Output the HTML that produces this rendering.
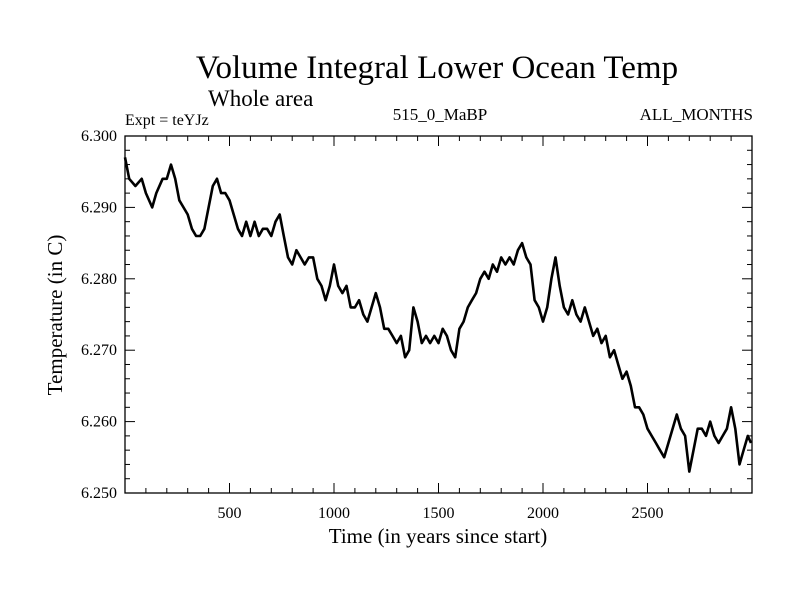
<!DOCTYPE html>
<html><head><meta charset="utf-8"><style>
body{margin:0;background:#fff}
svg{display:block;font-family:"Liberation Serif",serif}
</style></head><body>
<svg id="chart" width="800" height="600" viewBox="0 0 800 600">
<text x="437" y="78" font-size="33" text-anchor="middle">Volume Integral Lower Ocean Temp</text>
<text x="208" y="106" font-size="23">Whole area</text>
<text x="125" y="125" font-size="16">Expt = teYJz</text>
<text x="440" y="120" font-size="17" text-anchor="middle">515_0_MaBP</text>
<text x="753" y="120" font-size="17" text-anchor="end">ALL_MONTHS</text>
<text x="438" y="543" font-size="21" text-anchor="middle">Time (in years since start)</text>
<text transform="translate(62,315) rotate(-90)" font-size="21" text-anchor="middle">Temperature (in C)</text>
<g id="axes"></g>
<path id="series" fill="none" stroke="#000" stroke-width="2.6" stroke-linejoin="round"/>
<rect x="125" y="136" width="627" height="357" fill="none" stroke="#000" stroke-width="1.3"/>
</svg>
<script>
const years=[0,20,50,80,100,130,150,180,200,220,240,260,280,300,320,340,360,380,400,420,440,460,480,500,520,540,560,580,600,620,640,660,680,700,720,740,760,780,800,820,840,860,880,900,920,940,960,980,1000,1020,1040,1060,1080,1100,1120,1140,1160,1180,1200,1220,1240,1260,1280,1300,1320,1340,1360,1380,1400,1420,1440,1460,1480,1500,1520,1540,1560,1580,1600,1620,1640,1660,1680,1700,1720,1740,1760,1780,1800,1820,1840,1860,1880,1900,1920,1940,1960,1980,2000,2020,2040,2060,2080,2100,2120,2140,2160,2180,2200,2220,2240,2260,2280,2300,2320,2340,2360,2380,2400,2420,2440,2460,2480,2500,2520,2540,2560,2580,2600,2620,2640,2660,2680,2700,2720,2740,2760,2780,2800,2820,2840,2860,2880,2900,2920,2940,2960,2980,2995];
const temps=[6.297,6.294,6.293,6.294,6.292,6.290,6.292,6.294,6.294,6.296,6.294,6.291,6.290,6.289,6.287,6.286,6.286,6.287,6.290,6.293,6.294,6.292,6.292,6.291,6.289,6.287,6.286,6.288,6.286,6.288,6.286,6.287,6.287,6.286,6.288,6.289,6.286,6.283,6.282,6.284,6.283,6.282,6.283,6.283,6.280,6.279,6.277,6.279,6.282,6.279,6.278,6.279,6.276,6.276,6.277,6.275,6.274,6.276,6.278,6.276,6.273,6.273,6.272,6.271,6.272,6.269,6.270,6.276,6.274,6.271,6.272,6.271,6.272,6.271,6.273,6.272,6.270,6.269,6.273,6.274,6.276,6.277,6.278,6.280,6.281,6.280,6.282,6.281,6.283,6.282,6.283,6.282,6.284,6.285,6.283,6.282,6.277,6.276,6.274,6.276,6.280,6.283,6.279,6.276,6.275,6.277,6.275,6.274,6.276,6.274,6.272,6.273,6.271,6.272,6.269,6.270,6.268,6.266,6.267,6.265,6.262,6.262,6.261,6.259,6.258,6.257,6.256,6.255,6.257,6.259,6.261,6.259,6.258,6.253,6.256,6.259,6.259,6.258,6.260,6.258,6.257,6.258,6.259,6.262,6.259,6.254,6.256,6.258,6.257];
const xTickLabels=["500","1000","1500","2000","2500"];
const yTickLabels=["6.250","6.260","6.270","6.280","6.290","6.300"];
const L=125,R=752,T=136,B=493,XMAX=3000,YMIN=6.25,YMAX=6.30;
const xs=v=>L+(v/XMAX)*(R-L);
const ys=v=>B-(v-YMIN)/(YMAX-YMIN)*(B-T);
const NS="http://www.w3.org/2000/svg";
const ax=document.getElementById('axes');
function line(x1,y1,x2,y2,name){const l=document.createElementNS(NS,'line');l.setAttribute('x1',x1);l.setAttribute('y1',y1);l.setAttribute('x2',x2);l.setAttribute('y2',y2);l.setAttribute('stroke','#000');l.setAttribute('stroke-width','1');


ax.appendChild(l);}
function text(x,y,s,anchor,name){const t=document.createElementNS(NS,'text');t.setAttribute('x',x);t.setAttribute('y',y);t.setAttribute('font-size','16');t.setAttribute('text-anchor',anchor);t.textContent=s;


ax.appendChild(t);}
for(let v=100;v<XMAX;v+=100){const x=xs(v);const len=v%500===0?10:5;line(x,B,x,B-len,'x-tick');line(x,T,x,T+len,'x-tick-top');}
xTickLabels.forEach(s=>text(xs(+s),518,s,'middle','x-tick-label'));
for(let i=0;i<=25;i++){const v=YMIN+i*0.002;const y=ys(v);const len=i%5===0?10:5;line(L,y,L+len,y,'y-tick');line(R,y,R-len,y,'y-tick-right');}
yTickLabels.forEach(s=>text(117,ys(+s)+5,s,'end','y-tick-label'));
let d='';
years.forEach((yr,i)=>{d+=(i?'L':'M')+xs(yr).toFixed(1)+','+ys(temps[i]).toFixed(1);});
document.getElementById('series').setAttribute('d',d);
</script>
</body></html>
